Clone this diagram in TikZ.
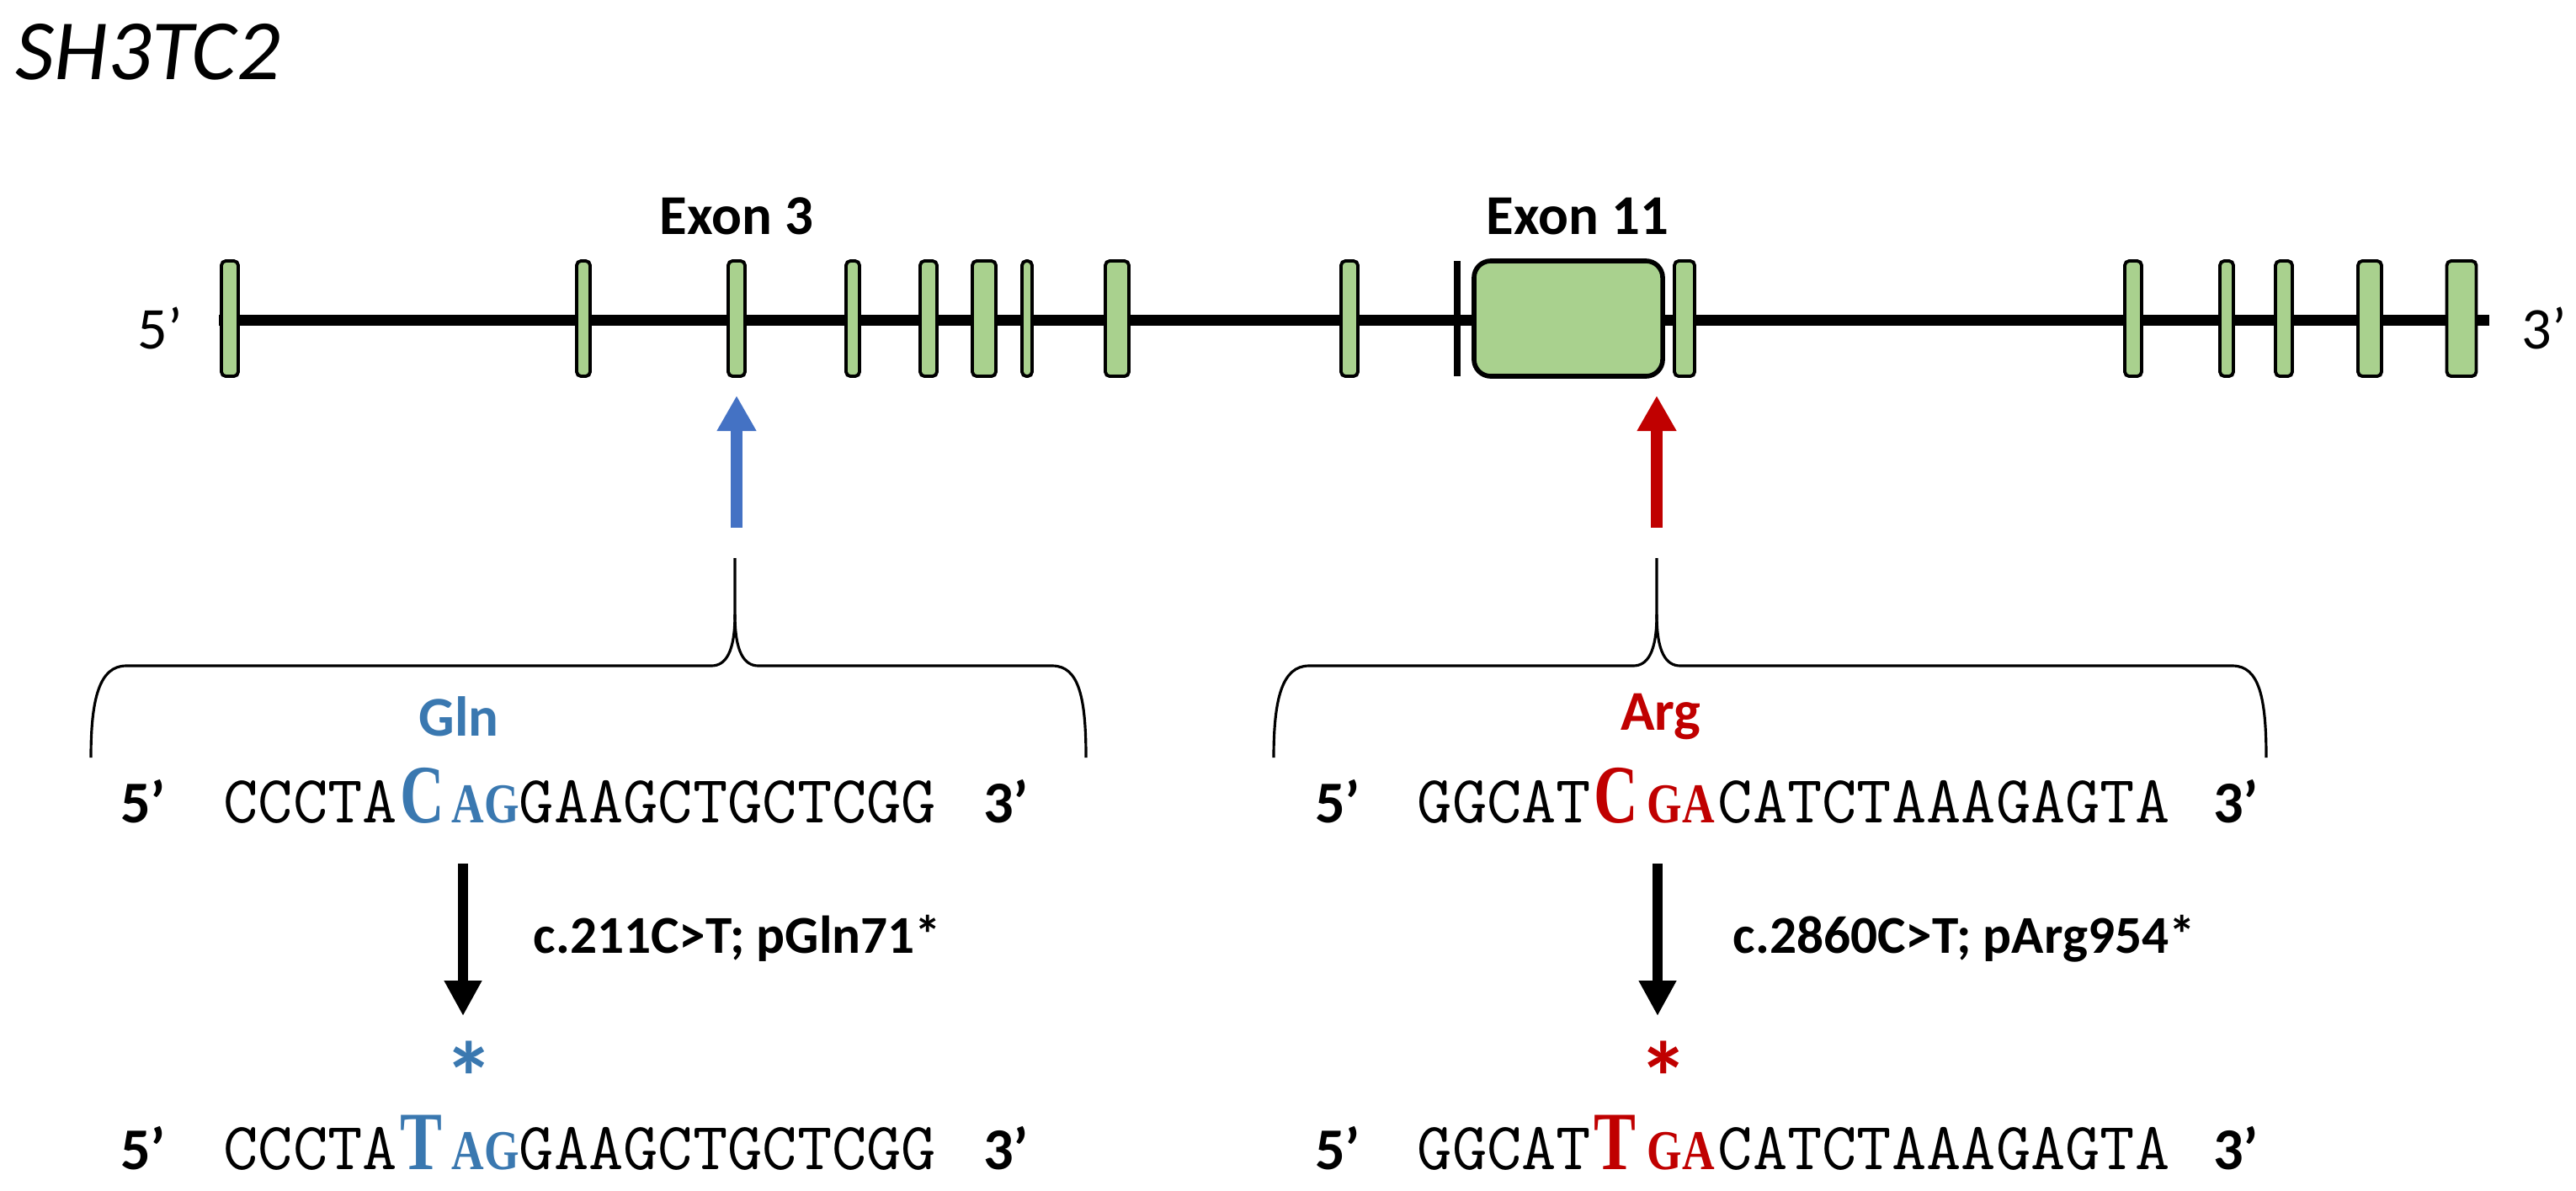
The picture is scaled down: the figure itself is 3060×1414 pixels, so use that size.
\documentclass[tikz,border=0pt]{standalone}
\usepackage{fontspec}
\setmainfont{Carlito}
\newfontfamily\seqmono{Latin Modern Mono}
\newfontfamily\bigserif{Liberation Serif}
\usetikzlibrary{arrows.meta}
\definecolor{exgreen}{HTML}{A9D18E}
\definecolor{arrblue}{HTML}{4472C4}
\definecolor{txtblue}{HTML}{3A78B0}
\definecolor{txtred}{HTML}{C00000}
\tikzset{
  exon/.style={draw=black, line width=1.1pt, fill=exgreen, rounded corners=1.5pt, minimum height=1.37cm, inner sep=0pt},
  lbl/.style={inner sep=0pt, font=\bfseries\fontsize{19}{22}\selectfont},
  prime/.style={inner sep=0pt, anchor=base, font=\fontsize{20}{24}\selectfont},
  sprime/.style={prime, font=\bfseries\fontsize{20}{24}\selectfont},
  seq/.style={inner sep=0pt, anchor=base west, font=\seqmono\fontsize{22.8}{26}\selectfont},
  bigb/.style={inner sep=0pt, anchor=base west, font=\bigserif\bfseries\fontsize{28}{30}\selectfont},
  smb/.style={inner sep=0pt, anchor=base west, font=\bigserif\bfseries\fontsize{19}{22}\selectfont},
  mut/.style={inner sep=0pt, anchor=west, font=\bfseries\fontsize{18}{22}\selectfont},
  star/.style={inner sep=0pt, font=\bfseries\fontsize{34}{36}\selectfont},
  brace/.style={line width=0.9pt, line join=round},
  down/.style={line width=3.4pt, -{Triangle[width=0.42cm,length=0.42cm]}},
  up/.style={line width=4pt, -{Triangle[width=0.44cm,length=0.42cm]}},
}
\begin{document}
\begin{tikzpicture}[x=0.01cm,y=-0.01cm]
\useasboundingbox (0,0) rectangle (3060,1414);
\node[inner sep=0pt, anchor=west, font=\itshape\fontsize{29}{34}\selectfont] (title) at (18,62) {SH3TC2};
% gene line
\coordinate (gl) at (260,380);
\coordinate (gr) at (2957,380);
\draw[line width=3.7pt] (gl) -- (gr);
\node[prime, anchor=center] (g5) at (190,390) {5’};
\node[prime, anchor=center] (g3) at (3022,390) {3’};
\foreach \x/\w [count=\i] in {273/20,693/16,875/20,1013/16,1103/20,1169/28,1220/12,1327/28,1603/20,2001/24,2534/20,2645/16,2713/20,2815/28,2924/35}
  \node[exon, minimum width=\w*0.01cm] (e\i) at (\x,378.5) {};
\node[fill=black, inner sep=0pt, minimum width=0.08cm, minimum height=1.37cm] (bar) at (1731,378.5) {};
\node[exon, line width=1.6pt, rounded corners=0.2cm, minimum width=2.24cm] (e11) at (1863,378.5) {};
\node[lbl] (x3) at (875,257) {Exon 3};
\node[lbl] (x11) at (1874,257) {Exon 11};
% colored arrows
\coordinate (ba) at (875,627); \coordinate (bt) at (875,470);
\draw[up, arrblue] (ba) -- (bt);
\coordinate (ra) at (1968,627); \coordinate (rt) at (1968,470);
\draw[up, txtred] (ra) -- (rt);
% braces
\draw[brace] (873,663) -- (873,730) .. controls (873,775) and (862,791) .. (845,791) -- (150,791) .. controls (118,791) and (108,830) .. (108,900);
\draw[brace] (873,730) .. controls (873,775) and (884,791) .. (901,791) -- (1250,791) .. controls (1282,791) and (1290,830) .. (1290,900);
\draw[brace] (1968,663) -- (1968,730) .. controls (1968,775) and (1957,791) .. (1940,791) -- (1555,791) .. controls (1523,791) and (1513,830) .. (1513,900);
\draw[brace] (1968,730) .. controls (1968,775) and (1979,791) .. (1996,791) -- (2652,791) .. controls (2684,791) and (2692,830) .. (2692,900);
% left sequences
\node[lbl, text=txtblue] (gln) at (545,851) {Gln};
\node[sprime] (l5a) at (170,977) {5’};
\node[seq] (l1a) at (265,977) {CCCTA};
\node[bigb, text=txtblue] (l1b) at (475,977) {\scalebox{0.74}[1]{C}};
\node[smb, text=txtblue] (l1c) at (536,977) {\scalebox{0.8}[1]{AG}};
\node[seq] (l1d) at (616,977) {GAAGCTGCTCGG};
\node[sprime] (l3a) at (1195,977) {3’};
\coordinate (la1) at (550,1026); \coordinate (la2) at (550,1207);
\draw[down] (la1) -- (la2);
\node[mut] (lm) at (633,1115) {c.211C>T; pGln71*};
\node[star, text=txtblue] (ls) at (557,1280) {*};
\node[sprime] (l5b) at (170,1389) {5’};
\node[seq] (l2a) at (265,1389) {CCCTA};
\node[bigb, text=txtblue] (l2b) at (475,1389) {\scalebox{0.76}[1]{T}};
\node[smb, text=txtblue] (l2c) at (536,1389) {\scalebox{0.8}[1]{AG}};
\node[seq] (l2d) at (616,1389) {GAAGCTGCTCGG};
\node[sprime] (l3b) at (1195,1389) {3’};
% right sequences
\node[lbl, text=txtred] (arg) at (1973,851) {Arg};
\node[sprime] (r5a) at (1589,977) {5’};
\node[seq] (r1a) at (1683,977) {GGCAT};
\node[bigb, text=txtred] (r1b) at (1893,977) {\scalebox{0.74}[1]{C}};
\node[smb, text=txtred] (r1c) at (1956,977) {\scalebox{0.8}[1]{GA}};
\node[seq] (r1d) at (2040,977) {CATCTAAAGAGTA};
\node[sprime] (r3a) at (2656,977) {3’};
\coordinate (ra1) at (1969,1026); \coordinate (ra2) at (1969,1207);
\draw[down] (ra1) -- (ra2);
\node[mut] (rm) at (2058,1115) {c.2860C>T; pArg954*};
\node[star, text=txtred] (rs) at (1976,1280) {*};
\node[sprime] (r5b) at (1589,1389) {5’};
\node[seq] (r2a) at (1683,1389) {GGCAT};
\node[bigb, text=txtred] (r2b) at (1893,1389) {\scalebox{0.76}[1]{T}};
\node[smb, text=txtred] (r2c) at (1956,1389) {\scalebox{0.8}[1]{GA}};
\node[seq] (r2d) at (2040,1389) {CATCTAAAGAGTA};
\node[sprime] (r3b) at (2656,1389) {3’};
\end{tikzpicture}
\end{document}
